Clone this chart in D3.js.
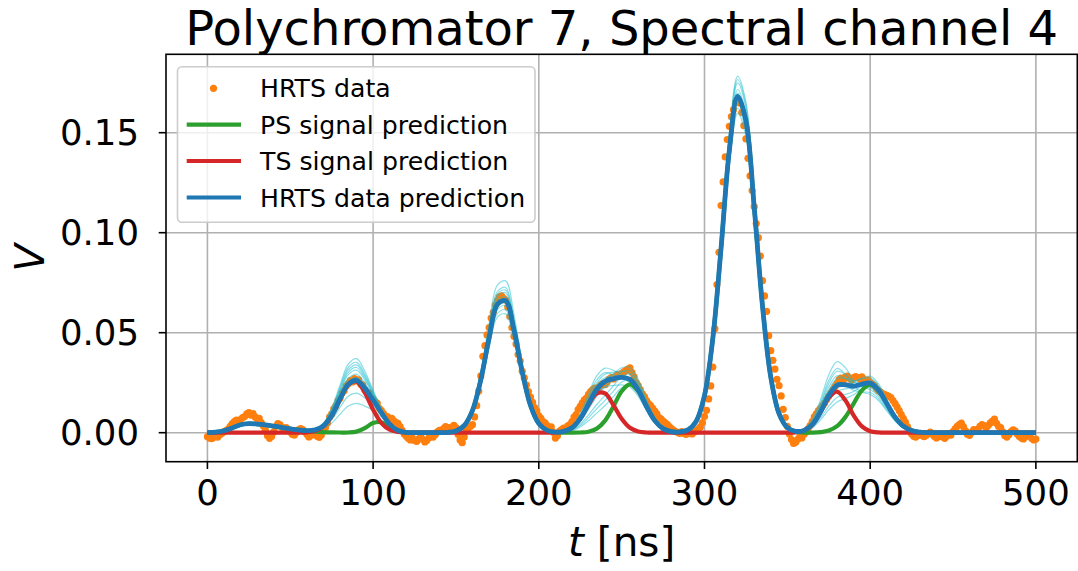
<!DOCTYPE html>
<html>
<head>
<meta charset="utf-8">
<script src="https://cdn.jsdelivr.net/npm/d3@7"></script>
<style>
  html, body { margin: 0; padding: 0; background: #ffffff; }
  svg { display: block; font-family: "DejaVu Sans", sans-serif; }
</style>
</head>
<body>
<svg id="chart" width="1078" height="571"></svg>
<script>
// ---- text ----
const chartTitle = "Polychromator 7, Spectral channel 4";
const legendLabels = ["HRTS data", "PS signal prediction", "TS signal prediction", "HRTS data prediction"];

// ---- axes ----
const xTicks = [0, 100, 200, 300, 400, 500];
const yTicksMv = [0, 50, 100, 150];

// ---- model time grid (ns) ----
const tModel = d3.range(0, 501, 5);

// PS (parasitic/stray light) signal prediction, mV
const psPredMv = [
  0.05, 0.27, 0.97, 2.39, 3.97, 4.50, 4.30, 3.87, 3.27, 2.59, 1.93, 1.35,
  0.89, 0.55, 0.32, 0.17, 0.09, 0.10, 0.55, 2.26, 4.85, 5.20, 2.78, 0.74, 0.10,
  0, 0, 0,
  0.02, 0.16, 0.88, 3.6, 11.2, 26.5, 47.3, 64.2, 66.0, 51.4, 30.4, 13.6, 4.6, 1.2, 0.23, 0.03,
  0, 0.09, 0.51, 2.05, 6.04, 13.05, 20.74, 24.2, 20.74, 13.05, 6.04, 2.05, 0.51,
  0.35, 1.38, 5.75, 18.6, 47.0, 92.3, 141.2, 168.2, 156.0, 112.7, 63.4, 27.8, 9.5, 2.5, 0.52, 0.08,
  0.05, 0.27, 1.05, 3.25, 7.79, 14.56, 21.18, 24.0, 21.18, 14.56, 7.79, 3.25, 1.05, 0.27, 0.05,
  0, 0, 0, 0, 0, 0, 0, 0, 0, 0, 0, 0, 0
];

// TS (Thomson scattering) signal prediction, mV
const tsPredMv = [
  0, 0, 0, 0, 0, 0, 0, 0, 0, 0, 0,
  0.03, 0.17, 0.86, 3.15, 8.45, 16.64, 24.1, 25.64, 20.0, 11.5, 4.84, 1.5, 0.34, 0.06,
  0, 0, 0, 0, 0, 0, 0, 0, 0, 0, 0, 0, 0, 0, 0, 0, 0,
  0.11, 0.62, 2.46, 6.95, 13.9, 19.64, 19.64, 13.9, 6.95, 2.46, 0.62, 0.11,
  0, 0, 0, 0, 0, 0, 0, 0, 0, 0, 0, 0, 0, 0, 0, 0,
  0.02, 0.19, 1.05, 3.96, 10.13, 17.5, 20.46, 16.18, 8.66, 3.14, 0.77, 0.13,
  0, 0, 0, 0, 0, 0, 0, 0, 0, 0, 0, 0, 0, 0, 0, 0, 0, 0, 0
];

// HRTS data prediction (PS + TS), mV
const hrtsPredMv = [
  0.05, 0.27, 0.97, 2.39, 3.97, 4.50, 4.30, 3.87, 3.27, 2.59, 1.93, 1.38,
  1.06, 1.41, 3.47, 8.62, 16.73, 24.2, 26.19, 22.26, 16.35, 10.04, 4.28, 1.08, 0.16,
  0, 0, 0,
  0.02, 0.16, 0.88, 3.6, 11.2, 26.5, 47.3, 64.2, 66.0, 51.4, 30.4, 13.6, 4.6, 1.2,
  0.34, 0.65, 2.46, 7.04, 14.41, 21.69, 25.68, 26.95, 27.69, 26.66, 21.36, 13.16, 6.04, 2.05, 0.51,
  0.35, 1.38, 5.75, 18.6, 47.0, 92.3, 141.2, 168.2, 156.0, 112.7, 63.4, 27.8, 9.5, 2.52, 0.71, 1.13,
  4.01, 10.4, 18.55, 23.71, 23.97, 23.22, 24.32, 24.77, 21.31, 14.56, 7.79, 3.25, 1.05, 0.27, 0.05,
  0, 0, 0, 0, 0, 0, 0, 0, 0, 0, 0, 0, 0
];

// posterior samples of the HRTS data prediction, mV
const predSample01 = [
  0.1, 0.3, 1.0, 2.4, 4.0, 4.5, 4.3, 3.9, 3.3, 2.6, 1.9, 1.4,
  1.1, 1.8, 4.8, 12.2, 23.7, 34.3, 37.0, 30.7, 21.2, 12.1, 4.9, 1.2, 0.2,
  0, 0, 0,
  0, 0.2, 1.0, 4.1, 12.9, 30.5, 54.4, 73.8, 75.9, 59.1, 35.0, 15.6, 5.3, 1.4,
  0.4, 0.9, 3.3, 9.5, 19.3, 28.5, 32.3, 31.2, 29.1, 26.3, 20.5, 12.5, 5.7, 1.9, 0.5,
  0.4, 1.5, 6.1, 19.7, 49.8, 97.8, 149.7, 178.3, 165.4, 119.5, 67.2, 29.5, 10.1,
  2.7, 0.9, 1.8, 6.4, 16.4, 28.9, 35.5, 32.5, 26.2, 23.0, 21.6, 18.2, 12.4, 6.6, 2.8, 0.9, 0.2, 0,
  0, 0, 0, 0, 0, 0, 0, 0, 0, 0, 0, 0, 0
];
const predSample02 = [
  0.1, 0.3, 1.0, 2.4, 4.0, 4.5, 4.3, 3.9, 3.3, 2.6, 1.9, 1.4,
  1.1, 1.7, 4.6, 11.6, 22.6, 32.6, 35.2, 29.3, 20.4, 11.7, 4.8, 1.2, 0.2,
  0, 0, 0,
  0, 0.2, 1.0, 4.0, 12.3, 29.2, 52.0, 70.6, 72.6, 56.5, 33.4, 15.0, 5.1, 1.3,
  0.4, 0.7, 2.8, 8.1, 16.5, 24.8, 29.2, 30.3, 30.8, 29.5, 23.5, 14.5, 6.6, 2.3, 0.6,
  0.4, 1.4, 6.0, 19.3, 48.9, 96.0, 146.8, 174.9, 162.2, 117.2, 65.9, 28.9, 9.9,
  2.6, 0.8, 1.5, 5.4, 13.9, 24.6, 30.7, 29.2, 25.5, 24.4, 23.8, 20.3, 13.8, 7.4, 3.1, 1.0, 0.3, 0,
  0, 0, 0, 0, 0, 0, 0, 0, 0, 0, 0, 0, 0
];
const predSample03 = [
  0.1, 0.3, 1.0, 2.4, 4.0, 4.5, 4.3, 3.9, 3.3, 2.6, 1.9, 1.4,
  1.1, 1.7, 4.4, 11.2, 21.7, 31.4, 33.9, 28.3, 19.8, 11.5, 4.7, 1.2, 0.2,
  0, 0, 0,
  0, 0.2, 0.9, 3.8, 11.9, 28.1, 50.1, 68.1, 70.0, 54.5, 32.2, 14.4, 4.9, 1.3,
  0.3, 0.6, 2.3, 6.7, 13.8, 21.2, 26.2, 29.5, 32.5, 32.6, 26.5, 16.4, 7.6, 2.6, 0.6,
  0.4, 1.4, 5.9, 19.0, 47.9, 94.1, 144.0, 171.6, 159.1, 115.0, 64.7, 28.4, 9.7,
  2.6, 0.8, 1.3, 4.6, 12.0, 21.3, 27.1, 27.2, 26.0, 26.9, 27.3, 23.5, 16.0, 8.6, 3.6, 1.2, 0.3, 0.1,
  0, 0, 0, 0, 0, 0, 0, 0, 0, 0, 0, 0, 0
];
const predSample04 = [
  0.1, 0.3, 1.0, 2.4, 4.0, 4.5, 4.3, 3.9, 3.3, 2.6, 1.9, 1.4,
  1.1, 1.6, 4.3, 10.7, 20.9, 30.2, 32.6, 27.3, 19.2, 11.3, 4.7, 1.2, 0.2,
  0, 0, 0,
  0, 0.2, 0.9, 3.7, 11.5, 27.3, 48.7, 66.1, 68.0, 52.9, 31.3, 14.0, 4.7, 1.2,
  0.3, 0.5, 2.0, 5.7, 11.7, 18.2, 23.0, 26.8, 30.5, 31.0, 25.4, 15.8, 7.2, 2.5, 0.6,
  0.4, 1.4, 5.8, 18.6, 47.0, 92.3, 141.2, 168.2, 156.0, 112.7, 63.4, 27.8, 9.5,
  2.5, 0.7, 1.1, 3.8, 9.9, 17.8, 23.2, 24.3, 25.0, 27.3, 28.3, 24.5, 16.7, 9.0, 3.7, 1.2, 0.3, 0.1,
  0, 0, 0, 0, 0, 0, 0, 0, 0, 0, 0, 0, 0
];
const predSample05 = [
  0.1, 0.3, 1.0, 2.4, 4.0, 4.5, 4.3, 3.9, 3.3, 2.6, 1.9, 1.4,
  1.1, 1.6, 4.1, 10.3, 20.1, 29.0, 31.3, 26.3, 18.7, 11.0, 4.6, 1.2, 0.2,
  0, 0, 0,
  0, 0.2, 1.0, 3.9, 12.1, 28.6, 51.1, 69.3, 71.3, 55.5, 32.8, 14.7, 5.0, 1.3,
  0.4, 0.7, 2.7, 7.7, 15.8, 23.7, 27.6, 28.3, 28.4, 26.9, 21.4, 13.2, 6.0, 2.1, 0.5,
  0.4, 1.4, 6.0, 19.5, 49.4, 96.9, 148.3, 176.6, 163.8, 118.3, 66.6, 29.2, 10.0,
  2.7, 0.8, 1.4, 5.0, 12.9, 22.8, 28.5, 27.2, 23.9, 23.0, 22.6, 19.2, 13.1, 7.0, 2.9, 0.9, 0.2, 0,
  0, 0, 0, 0, 0, 0, 0, 0, 0, 0, 0, 0, 0
];
const predSample06 = [
  0.1, 0.3, 1.0, 2.4, 4.0, 4.5, 4.3, 3.9, 3.3, 2.6, 1.9, 1.4,
  1.1, 1.5, 3.9, 9.6, 18.7, 27.1, 29.3, 24.7, 17.7, 10.6, 4.5, 1.1, 0.2,
  0, 0, 0,
  0, 0.2, 0.9, 3.6, 11.2, 26.5, 47.3, 64.2, 66.0, 51.4, 30.4, 13.6, 4.6, 1.2,
  0.3, 0.4, 1.5, 4.3, 8.9, 14.1, 18.7, 23.4, 28.0, 29.3, 24.2, 15.1, 6.9, 2.4, 0.6,
  0.3, 1.4, 5.6, 18.2, 46.1, 90.5, 138.4, 164.8, 152.9, 110.4, 62.1, 27.2, 9.3,
  2.5, 0.7, 1.0, 3.4, 8.9, 16.0, 20.8, 21.9, 22.7, 24.9, 25.9, 22.4, 15.3, 8.2, 3.4, 1.1, 0.3, 0.1,
  0, 0, 0, 0, 0, 0, 0, 0, 0, 0, 0, 0, 0
];
const predSample07 = [
  0.1, 0.3, 1.0, 2.4, 4.0, 4.5, 4.3, 3.9, 3.3, 2.6, 1.9, 1.4,
  1.1, 1.5, 3.6, 9.0, 17.6, 25.4, 27.5, 23.3, 16.9, 10.3, 4.4, 1.1, 0.2,
  0, 0, 0,
  0, 0.2, 0.8, 3.5, 10.8, 25.4, 45.4, 61.6, 63.4, 49.3, 29.2, 13.1, 4.4, 1.2,
  0.3, 0.6, 2.2, 6.3, 12.9, 19.4, 22.8, 23.6, 23.9, 22.8, 18.2, 11.2, 5.1, 1.7, 0.4,
  0.3, 1.4, 5.7, 18.4, 46.5, 91.4, 139.8, 166.5, 154.4, 111.6, 62.8, 27.5, 9.4,
  2.5, 0.7, 1.2, 4.4, 11.4, 20.1, 25.1, 24.0, 21.2, 20.4, 20.1, 17.1, 11.6, 6.2, 2.6, 0.8, 0.2, 0,
  0, 0, 0, 0, 0, 0, 0, 0, 0, 0, 0, 0, 0
];
const predSample08 = [
  0.1, 0.3, 1.0, 2.4, 4.0, 4.5, 4.3, 3.9, 3.3, 2.6, 1.9, 1.4,
  1.1, 1.4, 3.3, 8.2, 15.9, 23.0, 24.9, 21.3, 15.8, 9.8, 4.2, 1.1, 0.2,
  0, 0, 0,
  0, 0.1, 0.8, 3.3, 10.4, 24.6, 44.0, 59.7, 61.4, 47.8, 28.3, 12.6, 4.3, 1.1,
  0.3, 0.3, 1.2, 3.6, 7.5, 12.0, 16.2, 20.7, 25.3, 26.6, 22.1, 13.8, 6.3, 2.2, 0.5,
  0.3, 1.3, 5.5, 17.9, 45.4, 89.1, 136.3, 162.3, 150.5, 108.8, 61.2, 26.8, 9.2,
  2.4, 0.6, 0.8, 2.8, 7.4, 13.3, 17.6, 19.1, 20.6, 23.4, 24.5, 21.3, 14.6, 7.8, 3.3, 1.1, 0.3, 0.1,
  0, 0, 0, 0, 0, 0, 0, 0, 0, 0, 0, 0, 0
];
const predSample09 = [
  0.1, 0.3, 1.0, 2.4, 4.0, 4.5, 4.3, 3.9, 3.3, 2.6, 1.9, 1.4,
  1.0, 1.2, 2.7, 6.5, 12.6, 18.2, 19.8, 17.3, 13.5, 8.8, 3.9, 1.0, 0.2,
  0, 0, 0,
  0, 0.2, 0.9, 3.5, 11.0, 26.0, 46.4, 62.9, 64.7, 50.4, 29.8, 13.3, 4.5, 1.2,
  0.4, 0.8, 3.1, 8.8, 17.8, 26.4, 30.0, 29.1, 27.4, 24.9, 19.5, 11.9, 5.4, 1.8, 0.5,
  0.4, 1.4, 5.8, 18.8, 47.5, 93.2, 142.6, 169.9, 157.6, 113.8, 64.0, 28.1, 9.6,
  2.6, 0.8, 1.6, 5.8, 14.9, 26.2, 32.1, 29.3, 23.5, 20.4, 19.1, 16.1, 10.9, 5.8, 2.4, 0.8, 0.2, 0,
  0, 0, 0, 0, 0, 0, 0, 0, 0, 0, 0, 0, 0
];
const predSample10 = [
  0.1, 0.3, 1.0, 2.4, 4.0, 4.5, 4.3, 3.9, 3.3, 2.6, 1.9, 1.4,
  1.0, 1.0, 2.1, 4.8, 9.2, 13.4, 14.7, 13.3, 11.2, 7.9, 3.6, 0.9, 0.1,
  0, 0, 0,
  0, 0.1, 0.8, 3.2, 10.1, 23.9, 42.6, 57.8, 59.4, 46.3, 27.4, 12.2, 4.1, 1.1,
  0.3, 0.3, 1.0, 2.9, 6.0, 9.8, 13.6, 18.0, 22.5, 24.0, 20.0, 12.4, 5.7, 1.9, 0.5,
  0.3, 1.3, 5.5, 17.7, 44.7, 87.7, 134.1, 159.8, 148.2, 107.1, 60.2, 26.4, 9.0,
  2.4, 0.6, 0.7, 2.4, 6.3, 11.5, 15.4, 17.1, 19.0, 22.0, 23.3, 20.2, 13.8, 7.4, 3.1, 1.0, 0.3, 0,
  0, 0, 0, 0, 0, 0, 0, 0, 0, 0, 0, 0, 0
];
const predSamples = [predSample01, predSample02, predSample03, predSample04, predSample05,
                     predSample06, predSample07, predSample08, predSample09, predSample10];

// ---- measured HRTS signal, sampled every 1.25 ns (one row = 10 ns), mV ----
const tData = d3.range(0, 500.001, 1.25);
const hrtsDataMv = [
  -2.0, -2.6, -3.0, -2.4, -1.8, -2.2, -1.0, -0.3,
  0.6, 1.0, 1.8, 3.2, 4.6, 5.5, 6.3, 5.8,
  6.6, 7.5, 8.1, 9.4, 10.0, 8.8, 9.6, 7.9,
  6.8, 7.2, 5.0, 3.4, 1.2, -1.5, -2.8, -1.9,
  0.4, 3.1, 4.6, 4.0, 2.7, 1.9, 2.6, 1.5,
  0.3, -0.9, -1.2, 0.2, 1.4, 2.1, 1.6, 0.5,
  -0.8, -2.1, -1.4, 0.3, -0.6, -1.8, -2.3, -1.1,
  0.9, 2.6, 4.8, 7.9, 9.4, 11.9, 13.4, 15.9,
  17.2, 19.8, 21.0, 23.4, 24.5, 26.1, 25.4, 27.0,
  25.9, 26.4, 24.2, 23.9, 21.5, 20.2, 19.9, 17.4,
  16.8, 15.6, 14.7, 12.2, 11.0, 9.6, 8.3, 7.9,
  6.8, 7.2, 5.9, 5.1, 4.7, 3.1, 1.2, -0.6,
  -1.8, -2.9, -3.6, -2.7, -3.9, -4.4, -3.1, -2.0,
  -3.3, -4.6, -3.8, -2.5, -1.4, -2.2, -1.0, 0.4,
  1.2, 0.6, 2.1, 3.0, 2.6, 1.9, 2.8, 3.7,
  2.5, -0.8, -3.6, -5.0, -2.1, 0.9, 2.4, 3.1,
  4.0, 7.9, 13.5, 20.8, 28.4, 38.2, 43.5, 48.9,
  52.6, 57.3, 60.2, 63.8, 66.1, 67.9, 68.4, 67.2,
  66.3, 62.9, 58.1, 52.6, 48.2, 44.3, 39.1, 35.8,
  30.7, 27.4, 23.9, 20.6, 17.8, 15.2, 12.6, 10.9,
  8.4, 7.2, 5.6, 4.9, 3.6, 1.8, 2.9, 0.2,
  -2.7, -1.5, 0.8, 1.6, 2.3, 2.0, 3.4, 4.1,
  5.6, 7.8, 9.1, 11.6, 13.2, 14.9, 16.4, 17.3,
  19.2, 20.5, 21.6, 22.3, 21.5, 22.8, 23.9, 24.6,
  24.0, 25.3, 26.8, 27.6, 26.9, 28.1, 29.0, 28.3,
  29.6, 30.4, 31.0, 31.8, 32.4, 30.1, 27.9, 25.0,
  23.6, 21.5, 19.4, 18.1, 16.0, 14.6, 13.5, 12.2,
  10.8, 9.4, 7.6, 6.9, 5.8, 4.9, 4.2, 3.0,
  2.1, 1.3, 0.6, 0.2, -0.4, 0.5, -0.3, -0.8,
  -0.5, 0.1, -0.6, 0.3, 0.9, 1.8, 2.9, 5.0,
  8.1, 11.2, 16.9, 23.4, 32.8, 52.0, 74.1, 90.2,
  113.6, 125.4, 137.9, 146.6, 153.2, 158.0, 161.5, 165.3,
  166.2, 164.8, 160.1, 153.5, 146.9, 137.2, 128.4, 121.1,
  113.0, 104.6, 97.5, 88.3, 76.0, 68.4, 60.7, 48.5,
  41.0, 36.2, 31.8, 26.7, 23.5, 18.4, 11.7, 7.6,
  3.2, -0.6, -3.4, -5.4, -4.8, -3.3, -1.9, -2.6,
  -0.9, 0.4, 1.9, 3.6, 5.5, 7.9, 9.4, 11.0,
  12.2, 13.5, 14.8, 16.6, 18.3, 19.8, 21.4, 23.0,
  24.6, 26.5, 27.3, 26.4, 27.8, 28.3, 27.1, 26.2,
  27.5, 28.1, 27.6, 26.8, 27.9, 26.5, 25.8, 26.4,
  25.1, 24.3, 23.6, 22.1, 21.0, 20.3, 19.6, 19.0,
  18.7, 18.2, 17.6, 16.1, 14.5, 12.8, 11.0, 9.1,
  7.2, 5.3, 3.1, 1.0, -0.6, -1.8, -2.2, -1.5,
  -0.7, -1.2, -2.0, -1.4, -0.5, 0.3, -0.8, -1.9,
  -2.6, -1.7, -0.9, -2.1, -2.8, -1.6, -0.4, -1.2,
  0.6, 1.9, 3.2, 4.1, 4.8, 3.0, 1.1, -0.9,
  -1.3, 0.2, 1.5, 0.6, 1.8, 3.2, 4.0, 3.5,
  2.4, 3.6, 4.9, 5.8, 6.8, 4.7, 3.1, 2.6,
  0.4, -1.5, -2.2, -1.0, 0.5, 1.4, 0.8, -0.6,
  -1.9, -2.7, -3.1, -2.0, -0.8, -1.7, -2.9, -3.6,
  -3.2
];

// ---- colours ----
const colData = "#ff7f0e", colPS = "#2ca02c", colTS = "#d62728",
      colPred = "#1f77b4", colSample = "#17becf";

// ---- layout ----
const box = { left: 166, top: 54.3, right: 1077.3, bottom: 461.7 };
const svg = d3.select("#chart");

const x = d3.scaleLinear().domain([-25, 525]).range([box.left, box.right]);
const y = d3.scaleLinear().domain([-14.5, 189.2]).range([box.bottom, box.top]);

svg.append("defs").append("clipPath").attr("id", "plotClip")
  .append("rect")
  .attr("x", box.left).attr("y", box.top)
  .attr("width", box.right - box.left).attr("height", box.bottom - box.top);

// grid
const grid = svg.append("g");
grid.selectAll("line.gx").data(xTicks).join("line")
  .attr("x1", d => x(d)).attr("x2", d => x(d))
  .attr("y1", box.top).attr("y2", box.bottom)
  .attr("stroke", "#b0b0b0").attr("stroke-width", 1.6);
grid.selectAll("line.gy").data(yTicksMv).join("line")
  .attr("x1", box.left).attr("x2", box.right)
  .attr("y1", d => y(d)).attr("y2", d => y(d))
  .attr("stroke", "#b0b0b0").attr("stroke-width", 1.6);

const plot = svg.append("g").attr("clip-path", "url(#plotClip)");

// measured points
plot.append("g").selectAll("circle").data(hrtsDataMv).join("circle")
  .attr("cx", (d, i) => x(tData[i]))
  .attr("cy", d => y(d))
  .attr("r", 3.6)
  .attr("fill", colData);

const curve = d3.line()
  .x((d, i) => x(tModel[i]))
  .y(d => y(d))
  .curve(d3.curveCatmullRom.alpha(0.5));

// posterior samples
plot.append("g").selectAll("path").data(predSamples).join("path")
  .attr("d", d => curve(d))
  .attr("fill", "none")
  .attr("stroke", colSample)
  .attr("stroke-opacity", 0.5)
  .attr("stroke-width", 1.2);

// predictions
[[psPredMv, colPS, 4.2], [tsPredMv, colTS, 4.2], [hrtsPredMv, colPred, 4.8]].forEach(([vals, col, w]) => {
  plot.append("path")
    .attr("d", curve(vals))
    .attr("fill", "none")
    .attr("stroke", col)
    .attr("stroke-width", w)
    .attr("stroke-linejoin", "round")
    .attr("stroke-linecap", "butt");
});

// frame
svg.append("rect")
  .attr("x", box.left).attr("y", box.top)
  .attr("width", box.right - box.left).attr("height", box.bottom - box.top)
  .attr("fill", "none").attr("stroke", "#000").attr("stroke-width", 1.6);

// ticks and tick labels
const tickLen = 7.3;
const axes = svg.append("g");
axes.selectAll("line.tx").data(xTicks).join("line")
  .attr("x1", d => x(d)).attr("x2", d => x(d))
  .attr("y1", box.bottom).attr("y2", box.bottom + tickLen)
  .attr("stroke", "#000").attr("stroke-width", 1.6);
axes.selectAll("text.tx").data(xTicks).join("text")
  .attr("x", d => x(d)).attr("y", box.bottom + 43)
  .attr("text-anchor", "middle")
  .attr("font-size", 35.5).attr("fill", "#000")
  .text(d => d);
axes.selectAll("line.ty").data(yTicksMv).join("line")
  .attr("x1", box.left - tickLen).attr("x2", box.left)
  .attr("y1", d => y(d)).attr("y2", d => y(d))
  .attr("stroke", "#000").attr("stroke-width", 1.6);
axes.selectAll("text.ty").data(yTicksMv).join("text")
  .attr("x", box.left - 27).attr("y", d => y(d))
  .attr("dy", "0.36em")
  .attr("text-anchor", "end")
  .attr("font-size", 35.5).attr("fill", "#000")
  .text(d => (d / 1000).toFixed(2));

// axis labels
const xl = svg.append("text")
  .attr("x", (box.left + box.right) / 2).attr("y", 556)
  .attr("text-anchor", "middle").attr("font-size", 40.5).attr("fill", "#000");
xl.append("tspan").attr("font-style", "italic").text("t");
xl.append("tspan").text(" [ns]");

svg.append("text")
  .attr("transform", `translate(44,${(box.top + box.bottom) / 2}) rotate(-90)`)
  .attr("text-anchor", "middle")
  .attr("font-size", 40.5).attr("font-style", "italic").attr("fill", "#000")
  .text("V");

// title
svg.append("text")
  .attr("x", (box.left + box.right) / 2).attr("y", 45)
  .attr("text-anchor", "middle")
  .attr("font-size", 48).attr("fill", "#000")
  .text(chartTitle);

// legend
const lg = svg.append("g");
lg.append("rect")
  .attr("x", 177.5).attr("y", 66.7)
  .attr("width", 357.5).attr("height", 155.6)
  .attr("rx", 4.5).attr("ry", 4.5)
  .attr("fill", "#fff").attr("fill-opacity", 0.8)
  .attr("stroke", "#cccccc").attr("stroke-width", 1.6);
const rowY = [88.3, 124.6, 161.0, 197.5];
const lgKinds = ["dot", colPS, colTS, colPred];
legendLabels.forEach((lab, i) => {
  if (lgKinds[i] === "dot") {
    lg.append("circle").attr("cx", 213.5).attr("cy", rowY[i]).attr("r", 3.6).attr("fill", colData);
  } else {
    lg.append("line")
      .attr("x1", 186.7).attr("x2", 241).attr("y1", rowY[i]).attr("y2", rowY[i])
      .attr("stroke", lgKinds[i]).attr("stroke-width", 4.2);
  }
  lg.append("text")
    .attr("x", 260).attr("y", rowY[i]).attr("dy", "0.36em")
    .attr("font-size", 25.2).attr("fill", "#000")
    .text(lab);
});
</script>
</body>
</html>
